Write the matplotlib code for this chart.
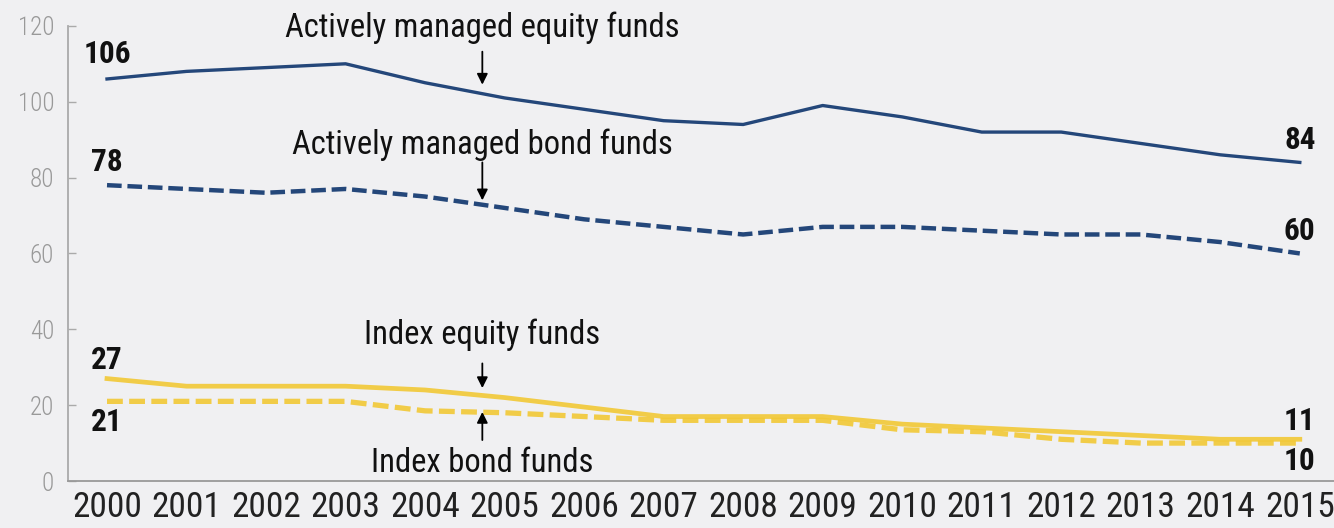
import matplotlib.pyplot as plt
import numpy as np

plt.rcParams['font.family'] = ['Roboto Condensed', 'Liberation Sans Narrow', 'DejaVu Sans']

# DATA
years = np.arange(2000, 2016)
active_equity = [106, 108, 109, 110, 105, 101, 98, 95, 94, 99, 96, 92, 92, 89, 86, 84]
active_bond = [78, 77, 76, 77, 75, 72, 69, 67, 65, 67, 67, 66, 65, 65, 63, 60]
index_equity = [27, 25, 25, 25, 24, 22, 19.5, 17, 17, 17, 15, 14, 13, 12, 11, 11]
index_bond = [21, 21, 21, 21, 18.5, 18, 17, 16, 16, 16, 13.5, 13, 11, 10, 10, 10]
yticks = [0, 20, 40, 60, 80, 100, 120]

blue = '#24477a'
yellow = '#f2c835'
bg = '#f0f0f2'

fig = plt.figure(figsize=(13.34, 5.28), dpi=100, facecolor=bg)
ax = fig.add_axes([0.051, 0.089, 0.949, 0.862], facecolor=bg)

ax.plot(years, active_equity, color=blue, lw=2.4)
ax.plot(years, active_bond, color=blue, lw=3.2, dashes=(3.3, 1.3))
ax.plot(years, index_equity, color=yellow, lw=3.4, alpha=0.9)
ax.plot(years, index_bond, color=yellow, lw=3.8, dashes=(3, 1.2), alpha=0.9)

ax.set_xlim(1999.51, 2015.43)
ax.set_ylim(0, 120)
ax.set_xticks(years)
ax.set_yticks(yticks)
ax.tick_params(axis='x', length=0, labelsize=25.5, colors='#222222', pad=7)
ax.tick_params(axis='y', direction='in', length=6, width=1, color='#aaaaaa',
               labelsize=18, labelcolor='#999999', pad=10)
for lab in ax.get_yticklabels():
    lab.set_fontweight('light')

for s in ['top', 'right']:
    ax.spines[s].set_visible(False)
ax.spines['left'].set_color('#aaaaaa')
ax.spines['bottom'].set_color('#999999')
ax.spines['left'].set_linewidth(1.3)
ax.spines['bottom'].set_linewidth(1.3)

# end labels
lab_kw = dict(fontsize=22.5, fontweight='bold', ha='center', va='center', color='#111111')
ax.text(2000, 112.6, '106', **lab_kw)
ax.text(2000, 84, '78', **lab_kw)
ax.text(2000, 32, '27', **lab_kw)
ax.text(2000, 15.5, '21', **lab_kw)
ax.text(2015, 90, '84', **lab_kw)
ax.text(2015, 66, '60', **lab_kw)
ax.text(2015, 15.8, '11', **lab_kw)
ax.text(2015, 5.3, '10', **lab_kw)

# series annotations
ann_kw = dict(fontsize=23.5, ha='center', va='center', color='#111111')
xa = 2004.72
arrow = dict(arrowstyle='-|>', color='black', lw=1.3, mutation_scale=16, shrinkA=0, shrinkB=0)
ax.text(xa, 119.5, 'Actively managed equity funds', **ann_kw)
ax.annotate('', xy=(xa, 104.5), xytext=(xa, 113.2), arrowprops=arrow)
ax.text(xa, 88.7, 'Actively managed bond funds', **ann_kw)
ax.annotate('', xy=(xa, 74), xytext=(xa, 84), arrowprops=arrow)
ax.text(xa, 38.5, 'Index equity funds', **ann_kw)
ax.annotate('', xy=(xa, 24.5), xytext=(xa, 31), arrowprops=arrow)
ax.text(xa, 4.7, 'Index bond funds', **ann_kw)
ax.annotate('', xy=(xa, 18.2), xytext=(xa, 10.8), arrowprops=arrow)

plt.savefig('out.png', dpi=100, facecolor=bg)
